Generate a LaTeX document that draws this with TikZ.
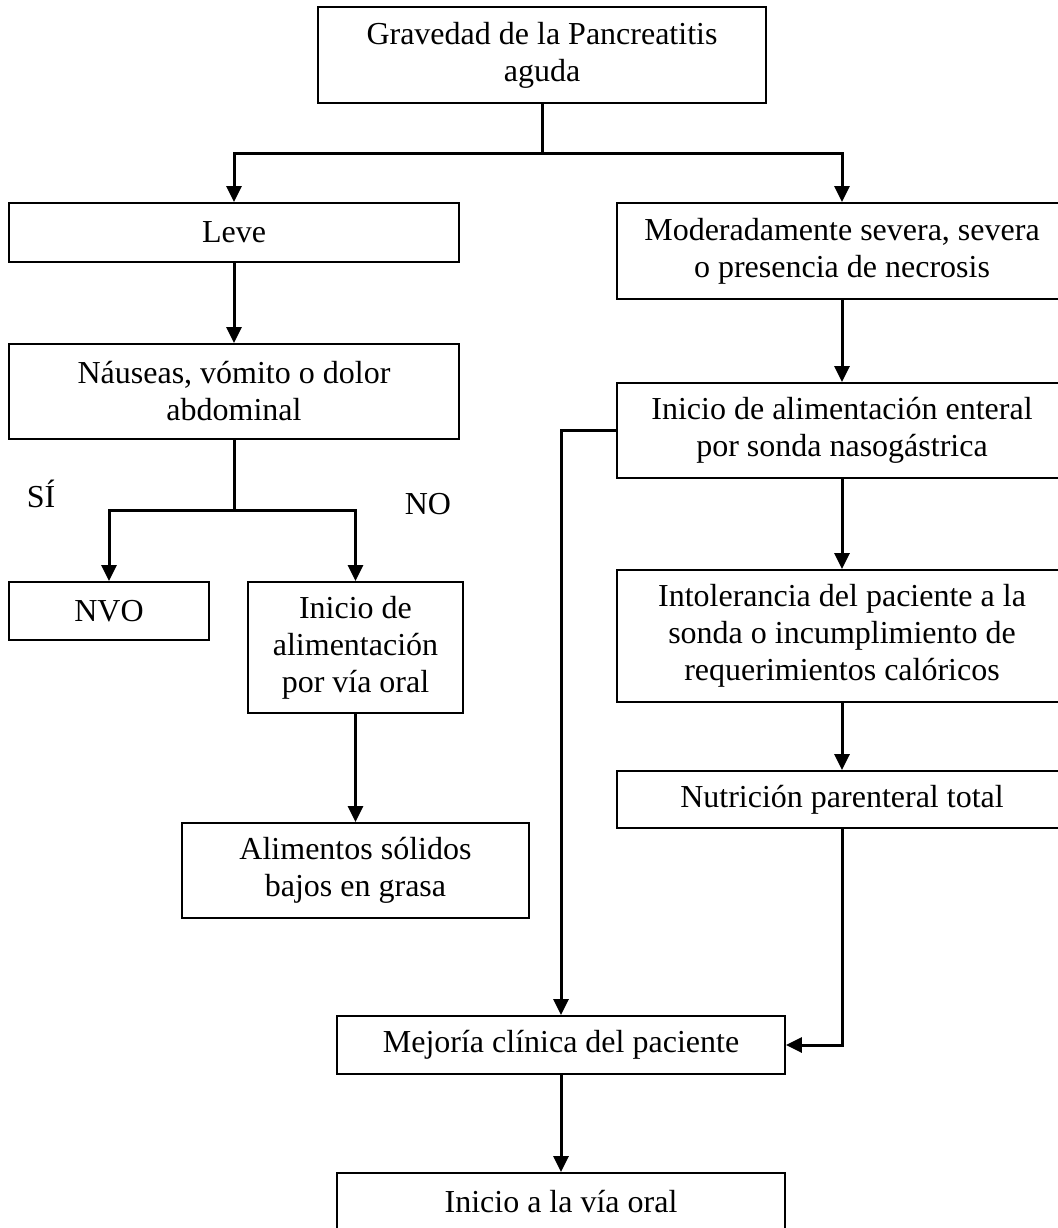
\documentclass[tikz,border=0pt]{standalone}
\usepackage{fontspec}
\setmainfont{Liberation Serif}
\usetikzlibrary{arrows.meta,positioning}
\tikzset{
  process/.style={
    draw,
    line width=0.9pt,
    align=center,
    inner sep=2pt,
    font=\fontsize{16}{18.5}\selectfont
  },
  answer/.style={
    font=\fontsize{16}{18.5}\selectfont
  },
  branch/.style={line width=1.5pt},
  flow/.style={-{Triangle[length=8pt,width=7.5pt]}, line width=1.5pt}
}

\begin{document}
\begin{tikzpicture}[x=0.5pt,y=-0.5pt]
  \useasboundingbox (0,0) rectangle (1058,1228);

  \node[process, minimum width=224pt, minimum height=48pt] (grav) at (542,55) {Gravedad de la Pancreatitis\\aguda};

  % rama leve
  \node[process, minimum width=225pt, minimum height=29.5pt] (leve) at (234,232.5) {Leve};
  \node[process, minimum width=225pt, minimum height=47.5pt] (naus) at (234,391.5) {Náuseas, vómito o dolor\\abdominal};
  \node[process, minimum width=100pt, minimum height=29pt] (nvo) at (109,611) {NVO};
  \node[process, minimum width=107.5pt, minimum height=65.5pt] (oral) at (355.5,647.5) {Inicio de\\alimentación\\por vía oral};
  \node[process, minimum width=173.5pt, minimum height=47.5pt] (alim) at (355.5,870.5) {Alimentos sólidos\\bajos en grasa};

  \node[answer] (si) at (41,494) {SÍ};
  \node[answer] (no) at (428,504) {NO};

  % rama severa
  \node[process, minimum width=225pt, minimum height=48pt] (mod) at (842,251) {Moderadamente severa, severa\\o presencia de necrosis};
  \node[process, minimum width=225pt, minimum height=47.5pt] (ent) at (842,430.5) {Inicio de alimentación enteral\\por sonda nasogástrica};
  \node[process, minimum width=225pt, minimum height=66pt] (intol) at (842,636) {Intolerancia del paciente a la\\sonda o incumplimiento de\\requerimientos calóricos};
  \node[process, minimum width=225pt, minimum height=28.5pt] (nut) at (842,799.5) {Nutrición parenteral total};

  \node[process, minimum width=224pt, minimum height=29pt] (mej) at (561,1045) {Mejoría clínica del paciente};
  \node[process, minimum width=224pt, minimum height=29pt] (ini) at (561,1202) {Inicio a la vía oral};

  \coordinate (split1) at (542,153);
  \coordinate (split2) at (234,510);

  \draw[branch] (grav.south) -- (split1);
  \draw[flow] (split1) -| (leve.north);
  \draw[flow] (split1) -| (mod.north);

  \draw[flow] (leve) -- (naus);
  \draw[branch] (naus.south) -- (split2);
  \draw[flow] (split2) -| (nvo.north);
  \draw[flow] (split2) -| (oral.north);
  \draw[flow] (oral) -- (alim);

  \draw[flow] (mod) -- (ent);
  \draw[flow] (ent) -- (intol);
  \draw[flow] (intol) -- (nut);
  \draw[flow] (ent.west) -| (mej.north);
  \draw[flow] (nut.south) |- (mej.east);
  \draw[flow] (mej) -- (ini);
\end{tikzpicture}
\end{document}
